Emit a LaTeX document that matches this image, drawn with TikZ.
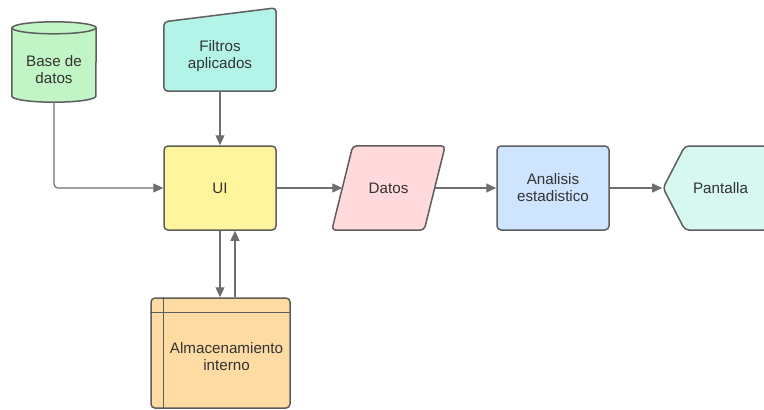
\documentclass[tikz,border=0pt]{standalone}
\usepackage{fontspec}
\setmainfont{Liberation Sans}
\usetikzlibrary{arrows.meta,shapes.symbols}
\definecolor{edgegray}{HTML}{5E5E5E}
\definecolor{linegray}{HTML}{6E6E6E}
\definecolor{txtgray}{HTML}{333333}
\definecolor{dbgreen}{HTML}{C2F5C5}
\definecolor{filtcyan}{HTML}{B4F4E8}
\definecolor{uiyellow}{HTML}{FFF59D}
\definecolor{datpink}{HTML}{FFD9DC}
\definecolor{anablue}{HTML}{CFE4FF}
\definecolor{panmint}{HTML}{D6F8F1}
\definecolor{storeorange}{HTML}{FFDBA4}
\tikzset{
	box/.style={draw=edgegray, line width=1.5pt, rounded corners=4pt, text=txtgray,
		align=center, font=\fontsize{15.2}{17}\selectfont, inner sep=0pt},
	ghost/.style={text=txtgray, align=center, font=\fontsize{15.2}{17}\selectfont, inner sep=0pt},
	outline/.style={draw=edgegray, line width=1.5pt, rounded corners=4pt},
	flow/.style={draw=linegray, line width=1.2pt, -{Triangle[length=10pt,width=9pt]}}
}
\begin{document}
\begin{tikzpicture}[x=1pt,y=-1pt]
	\useasboundingbox (0,0) rectangle (764,410);
	\clip (0,0) rectangle (764,410);
	% base de datos (cylinder)
	\node[ghost, minimum width=84pt, minimum height=64pt] (db) at (54,70) {};
	\draw[draw=edgegray, line width=1.5pt, fill=dbgreen] ([yshift=10pt]db.north west) -- ([yshift=6pt]db.south west)
		arc[start angle=180, end angle=360, x radius=42pt, y radius=6pt]
		-- ([yshift=10pt]db.north east)
		arc[start angle=0, end angle=180, x radius=42pt, y radius=6pt] -- cycle;
	\draw[draw=edgegray, line width=1.5pt] ([yshift=10pt]db.north west)
		arc[start angle=180, end angle=360, x radius=42pt, y radius=6pt];
	\node[ghost] at (db) {Base de\\datos};
	% filtros aplicados (manual input)
	\node[ghost, minimum width=112pt, minimum height=69pt] (filtros) at (220,56.5) {};
	\draw[outline, fill=filtcyan] (filtros.south west) -- (filtros.north west)
		-- ([yshift=14pt]filtros.north east) -- (filtros.south east) -- cycle;
	\node[ghost] at (filtros) {Filtros\\aplicados};
	% main row
	\node[box, fill=uiyellow, minimum width=112pt, minimum height=84pt] (ui) at (220,188) {UI};
	\node[ghost, minimum width=92pt, minimum height=84pt] (datos) at (388.5,188) {};
	\draw[outline, fill=datpink] ([xshift=10.5pt]datos.north west) -- ([xshift=10.5pt]datos.north east)
		-- ([xshift=-10.5pt]datos.south east) -- ([xshift=-10.5pt]datos.south west) -- cycle;
	\node[ghost] at (datos) {Datos};
	\node[box, fill=anablue, minimum width=112pt, minimum height=84pt] (analisis) at (553,188) {Analisis\\estadistico};
	\node[box, fill=panmint, signal, signal to=west, signal pointer angle=125,
		minimum width=105pt, minimum height=84pt] (pantalla) at (726.5,188) {};
	\node[ghost] at ([xshift=-6pt]pantalla.center) {Pantalla};
	% almacenamiento interno
	\node[box, fill=storeorange, minimum width=139pt, minimum height=110pt] (store) at (220.5,353) {};
	\draw[draw=edgegray, line width=1.5pt] ([xshift=13pt]store.north west) -- ([xshift=13pt]store.south west);
	\draw[draw=edgegray, line width=1.5pt] ([yshift=-15pt]store.north west) -- ([yshift=-15pt]store.north east);
	\node[ghost] at ([xshift=6pt, yshift=-4pt]store.center) {Almacenamiento\\interno};
	% connectors
	\draw[flow, rounded corners=4pt] (db.south) |- (ui.west);
	\draw[flow] (filtros.south) -- (ui.north);
	\draw[flow] (ui.east) -- (datos.west);
	\draw[flow] (datos.east) -- (analisis.west);
	\draw[flow] (analisis.east) -- (pantalla.west);
	\coordinate (up) at ([xshift=15pt]ui.south);
	\draw[flow] (ui.south) -- (ui.south |- store.north);
	\draw[flow] (up |- store.north) -- (up);
\end{tikzpicture}
\end{document}
